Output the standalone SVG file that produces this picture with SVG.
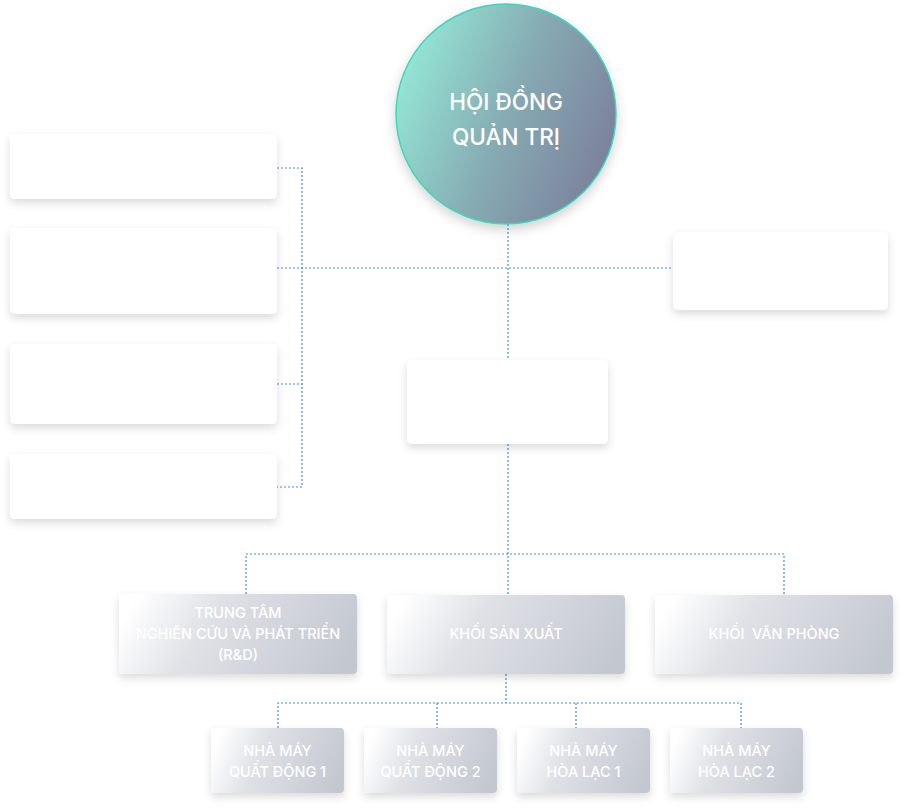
<svg xmlns="http://www.w3.org/2000/svg" width="903" height="808" viewBox="0 0 903 808">
<defs>
<linearGradient id="circ" x1="0" y1="0.3" x2="1" y2="0.7">
<stop offset="0" stop-color="#94e8d6"/>
<stop offset="0.5" stop-color="#86abb3"/>
<stop offset="1" stop-color="#7b7f9b"/>
</linearGradient>
<linearGradient id="box" x1="0" y1="0.4" x2="1" y2="0.6">
<stop offset="0" stop-color="#ffffff"/>
<stop offset="0.35" stop-color="#dfe1e6"/>
<stop offset="1" stop-color="#c3c7d0"/>
</linearGradient>
<linearGradient id="edge" x1="0" y1="0" x2="1" y2="0">
<stop offset="0" stop-color="#9aa9b5" stop-opacity="0.4"/>
<stop offset="0.25" stop-color="#2fd1ae"/>
<stop offset="0.75" stop-color="#2fd1ae"/>
<stop offset="1" stop-color="#8a9aaa" stop-opacity="0.6"/>
</linearGradient>
<filter id="sh" x="-10%" y="-20%" width="120%" height="150%">
<feDropShadow dx="0" dy="4" stdDeviation="4" flood-color="#000" flood-opacity="0.14"/>
</filter>
<filter id="csh" x="-20%" y="-20%" width="140%" height="140%">
<feDropShadow dx="0" dy="5" stdDeviation="6" flood-color="#000" flood-opacity="0.18"/>
</filter>
</defs>
<style>
.conn line, .conn polyline { stroke:#3f8fdc; stroke-width:1.2; stroke-dasharray:2 2; fill:none; }
.wbox { fill:#ffffff; filter:url(#sh); }
.gbox { fill:url(#box); filter:url(#sh); }
.edge { stroke:url(#edge); stroke-width:1.5; }
.t { font-family:"Inter","Lato","DejaVu Sans",sans-serif; fill:#ffffff; text-anchor:middle; font-size:14.5px; font-weight:500; white-space:pre; }
.tc { font-family:"Inter","Lato","DejaVu Sans",sans-serif; fill:#ffffff; text-anchor:middle; font-size:22.5px; font-weight:500; }
</style>
<rect width="903" height="808" fill="#ffffff"/>

<g class="conn">
<line x1="508" y1="224" x2="508" y2="360"/>
<line x1="277" y1="268" x2="673" y2="268"/>
<polyline points="277,168 302,168 302,487 277,487"/>
<line x1="277" y1="384" x2="302" y2="384"/>
<line x1="508" y1="444" x2="508" y2="595"/>
<polyline points="246,594 246,554 784,554 784,595"/>
<line x1="506" y1="674" x2="506" y2="703"/>
<polyline points="278,728 278,703 741,703 741,728"/>
<line x1="437" y1="703" x2="437" y2="728"/>
<line x1="576" y1="703" x2="576" y2="728"/>
</g>

<g id="hdqt">
<circle cx="506" cy="114" r="110" fill="url(#circ)" stroke="#3fd6b6" stroke-width="1.5" filter="url(#csh)"/>
<text class="tc" x="506" y="110">HỘI ĐỒNG</text>
<text class="tc" x="506" y="145">QUẢN TRỊ</text>
</g>

<g id="left1"><rect class="wbox" x="10" y="134" width="267" height="65" rx="5"/></g>
<g id="left2"><rect class="wbox" x="10" y="228" width="267" height="86" rx="5"/></g>
<g id="left3"><rect class="wbox" x="10" y="344" width="267" height="80" rx="5"/></g>
<g id="left4"><rect class="wbox" x="10" y="454" width="267" height="65" rx="5"/></g>
<g id="right1"><rect class="wbox" x="673" y="232" width="215" height="78" rx="5"/></g>
<g id="center1"><rect class="wbox" x="407" y="360" width="201" height="84" rx="5"/></g>

<g id="rnd">
<rect class="gbox" x="119" y="594" width="238" height="80" rx="4"/>
<line class="edge" x1="135" y1="594.5" x2="345" y2="594.5"/>
<line class="edge" x1="135" y1="673.5" x2="345" y2="673.5"/>
<text class="t" x="238" y="618">TRUNG TÂM</text>
<text class="t" x="238" y="639">NGHIÊN CỨU VÀ PHÁT TRIỂN</text>
<text class="t" x="238" y="660">(R&amp;D)</text>
</g>
<g id="ksx">
<rect class="gbox" x="387" y="595" width="238" height="79" rx="4"/>
<line class="edge" x1="403" y1="595.5" x2="613" y2="595.5"/>
<line class="edge" x1="403" y1="673.5" x2="613" y2="673.5"/>
<text class="t" x="506" y="639">KHỐI SẢN XUẤT</text>
</g>
<g id="kvp">
<rect class="gbox" x="655" y="595" width="238" height="79" rx="4"/>
<line class="edge" x1="671" y1="595.5" x2="881" y2="595.5"/>
<line class="edge" x1="671" y1="673.5" x2="881" y2="673.5"/>
<text class="t" x="774" y="639">KHỐI  VĂN PHÒNG</text>
</g>

<g id="nm1">
<rect class="gbox" x="211" y="728" width="133" height="65" rx="4"/>
<line class="edge" x1="220" y1="728.5" x2="336" y2="728.5"/>
<line class="edge" x1="220" y1="792.5" x2="336" y2="792.5"/>
<text class="t" x="277.5" y="756">NHÀ MÁY</text>
<text class="t" x="277.5" y="777">QUẤT ĐỘNG 1</text>
</g>
<g id="nm2">
<rect class="gbox" x="364" y="728" width="133" height="65" rx="4"/>
<line class="edge" x1="373" y1="728.5" x2="489" y2="728.5"/>
<line class="edge" x1="373" y1="792.5" x2="489" y2="792.5"/>
<text class="t" x="430.5" y="756">NHÀ MÁY</text>
<text class="t" x="430.5" y="777">QUẤT ĐỘNG 2</text>
</g>
<g id="nm3">
<rect class="gbox" x="517" y="728" width="133" height="65" rx="4"/>
<line class="edge" x1="526" y1="728.5" x2="642" y2="728.5"/>
<line class="edge" x1="526" y1="792.5" x2="642" y2="792.5"/>
<text class="t" x="583.5" y="756">NHÀ MÁY</text>
<text class="t" x="583.5" y="777">HÒA LẠC 1</text>
</g>
<g id="nm4">
<rect class="gbox" x="670" y="728" width="133" height="65" rx="4"/>
<line class="edge" x1="679" y1="728.5" x2="795" y2="728.5"/>
<line class="edge" x1="679" y1="792.5" x2="795" y2="792.5"/>
<text class="t" x="736.5" y="756">NHÀ MÁY</text>
<text class="t" x="736.5" y="777">HÒA LẠC 2</text>
</g>
</svg>
